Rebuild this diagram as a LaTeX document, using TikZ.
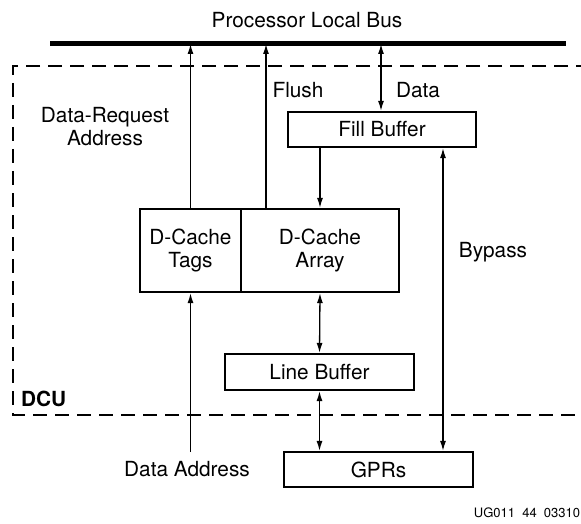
\documentclass[tikz,border=0pt]{standalone}
\usepackage{fontspec}
\setmainfont{TeX Gyre Heros}
\usetikzlibrary{arrows.meta}
\begin{document}
\begin{tikzpicture}[x=1pt,y=-1pt,
  lbl/.style={inner sep=0pt,font=\fontsize{20.8}{23}\selectfont,align=center},
  blk/.style={draw,line width=2.2pt,inner sep=0pt,font=\fontsize{20.8}{23}\selectfont,align=center},
  conn/.style={line width=1.3pt,-{Latex[length=10pt,width=6pt]}},
  biconn/.style={line width=1.3pt,{Latex[length=10pt,width=6pt]}-{Latex[length=10pt,width=6pt]}}]
\useasboundingbox (0,0) rectangle (581,524);
% title and bus
\node[lbl] (title) at (307,20) {Processor Local Bus};
\coordinate (busL) at (50,44);
\coordinate (busR) at (566,44);
\draw[line width=5pt] (busL) -- (busR);
% DCU dashed region
\coordinate (dTR) at (590,66);
\coordinate (dTL) at (13,66);
\coordinate (dBL) at (13,415);
\coordinate (dBR) at (590,415);
\draw[line width=2.5pt,dash pattern=on 14pt off 8pt] (dTR) -- (dTL) -- (dBL) -- (dBR);
\node[lbl,anchor=west,font=\fontsize{20.8}{23}\selectfont\bfseries] (dcu) at (21,399) {DCU};
% blocks
\node[blk,minimum width=188pt,minimum height=35pt] (fill) at (382,129.5) {Fill Buffer};
\node[blk,minimum width=101pt,minimum height=83pt] (tags) at (190.5,250.5) {D-Cache\\Tags};
\node[blk,minimum width=158pt,minimum height=83pt] (array) at (320,250.5) {D-Cache\\Array};
\node[blk,minimum width=189pt,minimum height=36pt] (line) at (319.5,372) {Line Buffer};
\node[blk,minimum width=189pt,minimum height=35pt] (gpr) at (378.5,469.5) {GPRs};
% labels
\node[lbl] (flush) at (298,90) {Flush};
\node[lbl] (data) at (418,90) {Data};
\node[lbl] (dra) at (105,127) {Data-Request\\Address};
\node[lbl] (bypass) at (493,252) {Bypass};
\node[lbl] (daddr) at (187,469) {Data Address};
\node[inner sep=0pt,font=\fontsize{13}{15}\selectfont] (ug) at (527,513) {UG011\ \ 44\ \ 03310};
% connectors
\coordinate (flushS) at (266,209);
\coordinate (daS) at (190.5,452);
\draw[conn] (tags.north) -- (tags.north |- busL);
\draw[conn] (flushS) -- (flushS |- busL);
\draw[biconn] (fill.north -| 381,0) -- (381,44);
\draw[conn] (fill.south -| array.north) -- (array.north);
\draw[biconn] (fill.south -| 443,0) -- (gpr.north -| 443,0);
\draw[conn] (daS) -- (tags.south);
\draw[biconn] (array.south) -- (line.north);
\draw[biconn] (line.south) -- (gpr.north -| line.south);
\end{tikzpicture}
\end{document}
